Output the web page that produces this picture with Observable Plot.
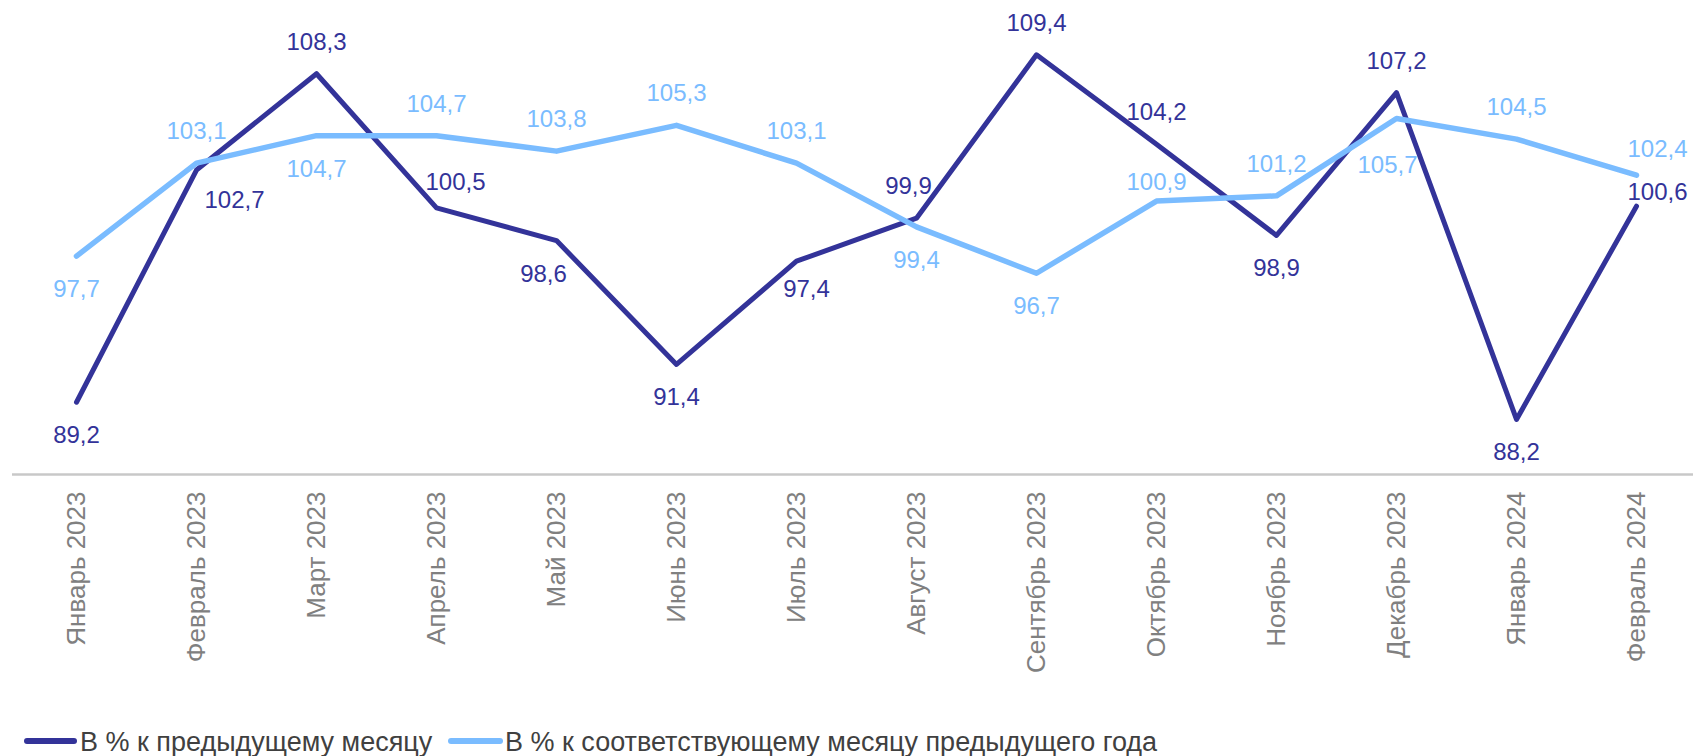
<!DOCTYPE html>
<html lang="ru">
<head>
<meta charset="utf-8">
<script src="https://cdn.jsdelivr.net/npm/d3@7"></script>
<script src="https://cdn.jsdelivr.net/npm/@observablehq/plot@0.6"></script>
<style>
  html, body { margin: 0; padding: 0; background: #ffffff; }
  body { width: 1693px; height: 756px; overflow: hidden; font-family: "Liberation Sans", Arial, sans-serif; }
  #chart svg { display: block; }
  #legend { position: relative; width: 1693px; height: 36px; color: #404040; font-size: 27px; }
  #legend .sw { position: absolute; height: 6px; border-radius: 3px; }
  #legend .lb { position: absolute; line-height: 26px; white-space: nowrap; }
</style>
</head>
<body>
<div id="chart"></div>
<div id="legend"></div>
<script>
// ---- data ----
const months = [
  "Январь 2023", "Февраль 2023", "Март 2023", "Апрель 2023", "Май 2023", "Июнь 2023",
  "Июль 2023", "Август 2023", "Сентябрь 2023", "Октябрь 2023", "Ноябрь 2023",
  "Декабрь 2023", "Январь 2024", "Февраль 2024"
];
const momValues = [89.2, 102.7, 108.3, 100.5, 98.6, 91.4, 97.4, 99.9, 109.4, 104.2, 98.9, 107.2, 88.2, 100.6];
const yoyValues = [97.7, 103.1, 104.7, 104.7, 103.8, 105.3, 103.1, 99.4, 96.7, 100.9, 101.2, 105.7, 104.5, 102.4];
const seriesNames = ["В % к предыдущему месяцу", "В % к соответствующему месяцу предыдущего года"];

// ---- styling ----
const colors = ["#333399", "#7ABCFF"];
// label placement (dx, baseline dy) per point
const momLabelOffset = [[0,41],[38,38],[0,-24],[19,-18],[-13,41],[0,41],[10,36],[-8,-24],[0,-24],[0,-24],[0,41],[0,-24],[0,41],[21,-6]];
const yoyLabelOffset = [[0,41],[0,-24],[0,41],[0,-24],[0,-24],[0,-24],[0,-24],[0,41],[0,41],[0,-11],[0,-24],[-9,55],[0,-24],[21,-18]];

const W = 1693, H = 720;
const fmt = v => d3.format(".1f")(v).replace(".", ",");

const mom = months.map((m, i) => ({month: m, value: momValues[i], dx: momLabelOffset[i][0], dy: momLabelOffset[i][1]}));
const yoy = months.map((m, i) => ({month: m, value: yoyValues[i], dx: yoyLabelOffset[i][0], dy: yoyLabelOffset[i][1]}));

function labelMarks(rows, color) {
  return d3.groups(rows, d => d.dx + "," + d.dy).map(([, g]) =>
    Plot.text(g, {
      x: "month", y: "value", text: d => fmt(d.value),
      dx: g[0].dx, dy: g[0].dy,
      fill: color, fontSize: 24, textAnchor: "middle", lineAnchor: "bottom"
    })
  );
}

const chart = Plot.plot({
  width: W,
  height: H,
  marginLeft: 12,
  marginRight: 0,
  marginTop: 9.6,
  marginBottom: H - 474,
  style: {background: "#ffffff", fontFamily: "'Liberation Sans', Arial, sans-serif", overflow: "visible"},
  x: {type: "point", domain: months, range: [72, 1640], padding: 0},
  y: {domain: [85, 112], axis: null},
  marks: [
    Plot.ruleY([85], {stroke: "#C8C8C8", strokeWidth: 2.5}),
    Plot.axisX({tickSize: 0, tickPadding: 17, tickRotate: -90, fontSize: 26, color: "#808080", label: null}),
    Plot.line(mom, {x: "month", y: "value", stroke: colors[0], strokeWidth: 5, strokeLinejoin: "round", strokeLinecap: "round"}),
    Plot.line(yoy, {x: "month", y: "value", stroke: colors[1], strokeWidth: 5.5, strokeLinejoin: "round", strokeLinecap: "round"}),
    ...labelMarks(mom, colors[0]),
    ...labelMarks(yoy, colors[1])
  ]
});
document.getElementById("chart").appendChild(chart);

// ---- legend (HTML below the SVG) ----
const legend = document.getElementById("legend");
const legendItems = [
  {swLeft: 24, swWidth: 53, textLeft: 80},
  {swLeft: 448, swWidth: 55, textLeft: 505}
];
seriesNames.forEach((name, i) => {
  const sw = document.createElement("span");
  sw.className = "sw";
  sw.style.left = legendItems[i].swLeft + "px";
  sw.style.width = legendItems[i].swWidth + "px";
  sw.style.top = "18px";
  sw.style.background = colors[i];
  legend.appendChild(sw);
  const lb = document.createElement("span");
  lb.className = "lb";
  lb.style.left = legendItems[i].textLeft + "px";
  lb.style.top = "9px";
  lb.textContent = name;
  legend.appendChild(lb);
});
</script>
</body>
</html>
